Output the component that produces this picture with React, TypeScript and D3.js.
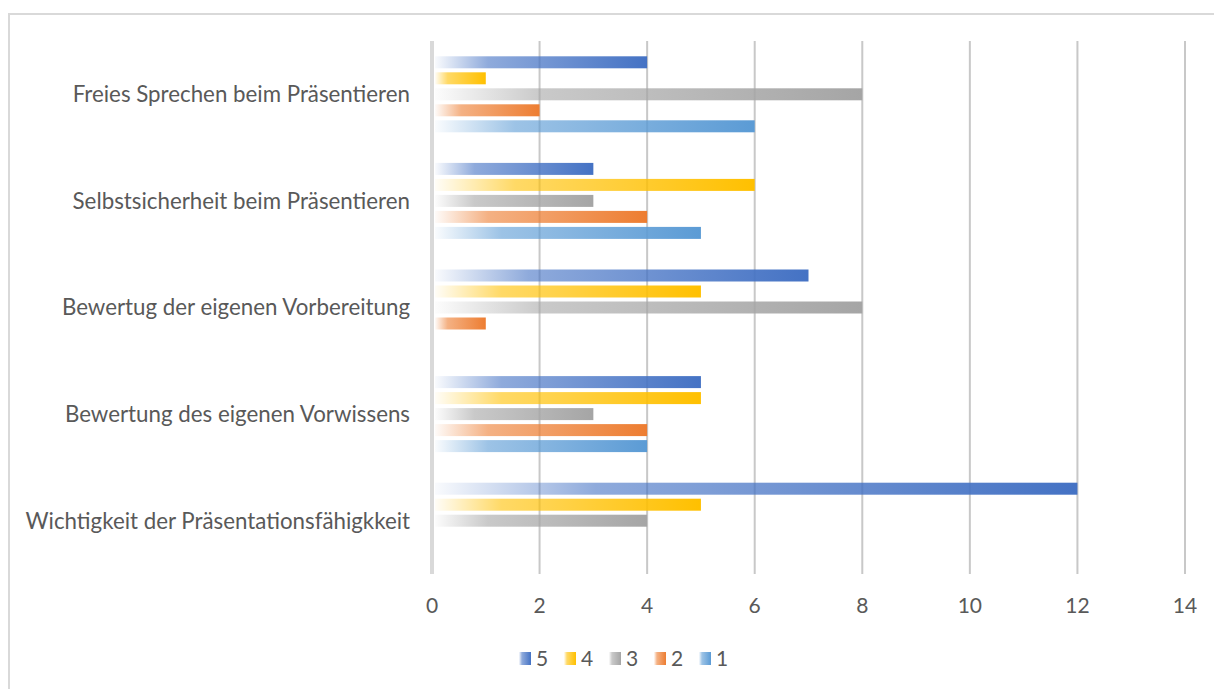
import React from "react";
import * as d3 from "d3";

const categories = [
  "Wichtigkeit der Präsentationsfähigkkeit",
  "Bewertung des eigenen Vorwissens",
  "Bewertug der eigenen Vorbereitung",
  "Selbstsicherheit beim Präsentieren",
  "Freies Sprechen beim Präsentieren",
];
const seriesNames = ["5", "4", "3", "2", "1"];
const seriesColors = ["#4472C4", "#FFC000", "#A5A5A5", "#ED7D31", "#5B9BD5"];
// values per series, in category order above
const s5 = [12, 5, 7, 3, 4];
const s4 = [5, 5, 5, 6, 1];
const s3 = [4, 3, 8, 3, 8];
const s2 = [0, 4, 1, 4, 2];
const s1 = [0, 4, 0, 5, 6];
const seriesValues = [s5, s4, s3, s2, s1];
const xTicks = [0, 2, 4, 6, 8, 10, 12, 14];

const W = 1214;
const H = 689;
const plotLeft = 432;
const plotRight = 1185;
const plotTop = 41;
const plotBottom = 574;

export default function App() {
  const x = d3.scaleLinear().domain([0, 14]).range([plotLeft, plotRight]);
  const y = d3
    .scaleBand<string>()
    .domain([...categories].reverse())
    .range([plotTop, plotBottom]);
  const step = 16;
  const barH = 12;
  const font = "Lato, 'Liberation Sans', sans-serif";
  return (
    <svg
      width={W}
      height={H}
      style={{ position: "absolute", left: 0, top: 0, display: "block" }}
    >
      <defs>
        {seriesColors.map((c, i) => (
          <linearGradient key={i} id={`g${i}`} x1="0" x2="1" y1="0" y2="0">
            <stop offset="0" stopColor={c} stopOpacity={0.03} />
            <stop offset="0.25" stopColor={c} stopOpacity={0.6} />
            <stop offset="1" stopColor={c} stopOpacity={1} />
          </linearGradient>
        ))}
      </defs>
      <rect x={0} y={0} width={W} height={H} fill="#fff" />
      <path
        d={`M9,${H} V14 H${W}`}
        fill="none"
        stroke="#d9d9d9"
        strokeWidth={2}
      />
      {xTicks.map((t) =>
        t === 0 ? null : (
          <line
            key={t}
            x1={x(t)}
            x2={x(t)}
            y1={plotTop}
            y2={plotBottom}
            stroke="#c8c8c8"
            strokeWidth={2}
          />
        )
      )}
      <line
        x1={x(0)}
        x2={x(0)}
        y1={plotTop}
        y2={plotBottom}
        stroke="#d9d9d9"
        strokeWidth={4}
      />
      {categories.map((c) => {
        const cy = (y(c) as number) + y.bandwidth() / 2;
        return (
          <g key={c}>
            {seriesValues.map((vals, si) => {
              const v = vals[categories.indexOf(c)];
              if (!v) return null;
              const by = cy + (si - 2) * step - barH / 2;
              const x0 = x(0) + 3;
              return (
                <rect
                  key={si}
                  x={x0}
                  y={by}
                  width={x(v) - x0}
                  height={barH}
                  fill={`url(#g${si})`}
                />
              );
            })}
            <text
              x={410}
              y={cy}
              dy="0.35em"
              textAnchor="end"
              fontFamily={font}
              fontSize={22.3}
              fill="#595959"
            >
              {c}
            </text>
          </g>
        );
      })}
      {xTicks.map((t) => (
        <text
          key={t}
          x={x(t)}
          y={606}
          dy="0.35em"
          textAnchor="middle"
          fontFamily={font}
          fontSize={21}
          fill="#595959"
        >
          {t}
        </text>
      ))}
      {seriesNames.map((n, i) => {
        const lx = 519 + i * 45;
        return (
          <g key={n}>
            <rect
              x={lx}
              y={652}
              width={12}
              height={13}
              fill={`url(#g${i})`}
            />
            <text
              x={lx + 17}
              y={658.5}
              dy="0.35em"
              fontFamily={font}
              fontSize={21}
              fill="#595959"
            >
              {n}
            </text>
          </g>
        );
      })}
    </svg>
  );
}
